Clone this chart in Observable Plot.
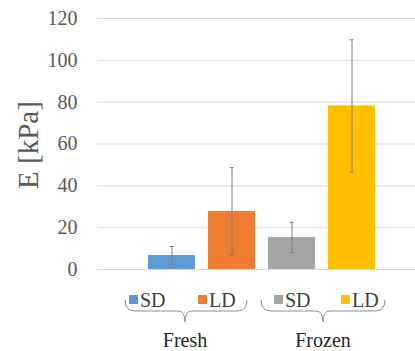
<!DOCTYPE html>
<html>
<head>
<meta charset="utf-8">
<script src="https://cdn.jsdelivr.net/npm/d3@7"></script>
<script src="https://cdn.jsdelivr.net/npm/@observablehq/plot@0.6"></script>
<style>
  html, body { margin: 0; padding: 0; background: #fff; }
  svg, svg text { font-family: "Liberation Serif", "Times New Roman", serif !important; }
</style>
</head>
<body>
<div id="chart"></div>
<script>
// ---- data ----
const groups = ["Fresh", "Fresh", "Frozen", "Frozen"];
const series = ["SD", "LD", "SD", "LD"];
const values = [6.7, 27.7, 15.3, 78.2];
const errors = [4.3, 21.0, 7.2, 31.6];
const colors = ["#5B9BD5", "#ED7D31", "#A5A5A5", "#FFC000"];
const yTicks = [0, 20, 40, 60, 80, 100, 120];
const yLabel = "E [kPa]";

const keys = groups.map((g, i) => g + " " + series[i]);
const data = keys.map((k, i) => ({
  key: k, group: groups[i], series: series[i],
  value: values[i], lo: values[i] - errors[i], hi: values[i] + errors[i]
}));

// ---- layout ----
const W = 415, H = 351;
const serif = "Liberation Serif";
const errColor = "#7f7f7f";

const chart = Plot.plot({
  width: W, height: H,
  marginLeft: 97, marginRight: 0, marginTop: 18, marginBottom: 82,
  style: { fontFamily: serif, background: "#fff", overflow: "visible" },
  x: { domain: keys, range: [135, 388], padding: 13 / 60, axis: null },
  y: { domain: [0, 120] },
  color: { domain: keys, range: colors },
  marks: [
    Plot.gridY(yTicks, { stroke: "#d9d9d9", strokeOpacity: 1, strokeWidth: 1 }),
    Plot.axisY(yTicks, { tickSize: 0, tickPadding: 20, fontSize: 20, fontFamily: serif, fill: "#595959", label: null }),
    Plot.barY(data, { x: "key", y: "value", fill: "key" }),
    Plot.ruleX(data, { x: "key", y1: "lo", y2: "hi", stroke: errColor, strokeWidth: 1 }),
    Plot.tickY(data, { x: "key", y: "hi", insetLeft: 21.5, insetRight: 21.5, stroke: errColor }),
    Plot.tickY(data, { x: "key", y: "lo", insetLeft: 21.5, insetRight: 21.5, stroke: errColor })
  ]
});
document.getElementById("chart").appendChild(chart);

const svg = d3.select(chart);

function addText(x, y, str, size, fill, anchor, transform) {
  const t = svg.append("text")
    .attr("x", x).attr("y", y)
    .attr("text-anchor", anchor)
    .attr("font-size", size)
    .attr("font-family", "Liberation Serif")
    .attr("fill", fill)
    .style("font-family", "'Liberation Serif', 'Times New Roman', serif")
    .style("text-anchor", anchor)
    .text(str);
  if (transform) t.attr("transform", transform);
  return t;
}

// y label
addText(0, 0, yLabel, 29, "#595959", "middle", "translate(38,145) rotate(-90)");

// legend
const legendX = [129, 198, 274, 341];
const legendY = 300;
keys.forEach((k, i) => {
  svg.append("rect")
    .attr("x", legendX[i]).attr("y", legendY - 5)
    .attr("width", 9).attr("height", 9)
    .attr("fill", colors[i]);
  addText(legendX[i] + 11, legendY + 6.5, series[i], 20, "#404040", "start");
});

// braces + group labels
const groupNames = Array.from(new Set(groups));
const braces = [
  { x0: 125, x1: 247, xc: 185 },
  { x0: 261, x1: 385, xc: 323 }
];
const yTop = 300, yMid = 311, yTip = 322;
braces.forEach((b, i) => {
  const p = `M${b.x0},${yTop} Q${b.x0},${yMid} ${b.x0 + 10},${yMid} L${b.xc - 7},${yMid} Q${b.xc},${yMid} ${b.xc},${yTip} Q${b.xc},${yMid} ${b.xc + 7},${yMid} L${b.x1 - 10},${yMid} Q${b.x1},${yMid} ${b.x1},${yTop}`;
  svg.append("path").attr("d", p).attr("fill", "none")
    .attr("stroke", "#8c8c8c").attr("stroke-width", 1);
  addText(b.xc, 347, groupNames[i], 20, "#262626", "middle");
});
</script>
</body>
</html>
